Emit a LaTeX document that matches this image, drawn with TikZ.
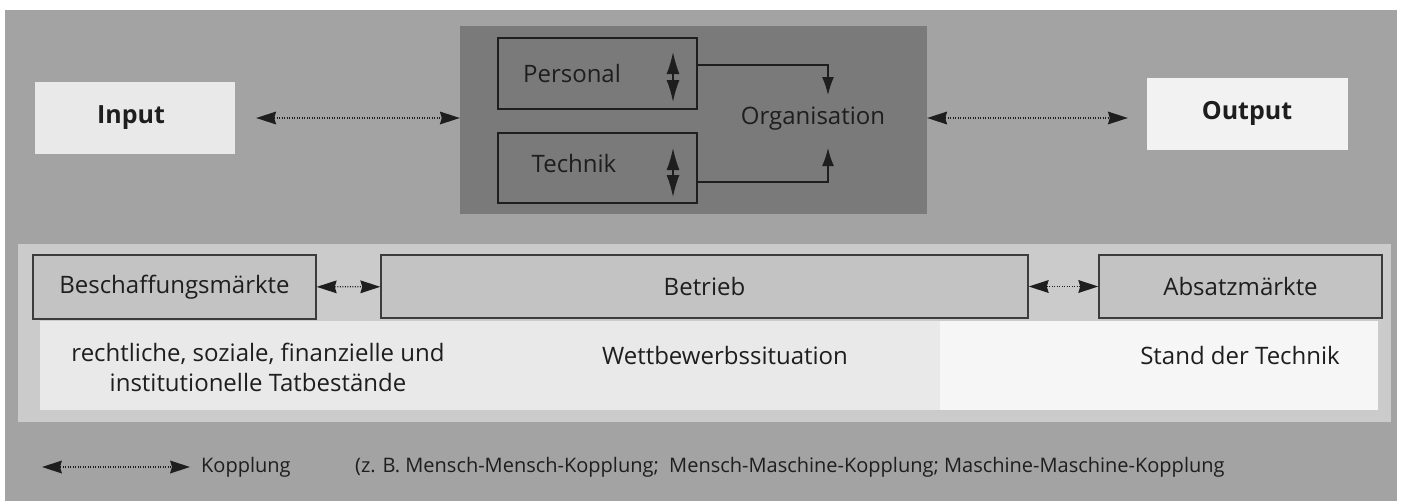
\documentclass[tikz,border=0pt]{standalone}
\usepackage{fontspec}
\setmainfont{Open Sans}
\usetikzlibrary{arrows.meta,calc}
\definecolor{bggrey}{HTML}{A3A3A3}
\definecolor{darkbox}{HTML}{7A7A7A}
\definecolor{panelgrey}{HTML}{CBCBCB}
\definecolor{boxgrey}{HTML}{C3C3C3}
\definecolor{stripA}{HTML}{E9E9E9}
\definecolor{stripB}{HTML}{F6F6F6}
\definecolor{inkgrey}{HTML}{1E1E1E}
\definecolor{linegrey}{HTML}{3C3C3C}
\tikzset{
  txt/.style={inner sep=0pt, text=inkgrey, font=\fontsize{24}{30}\selectfont},
  bigbold/.style={inner sep=0pt, text=inkgrey, font=\fontsize{25}{30}\selectfont\bfseries},
  small/.style={inner sep=0pt, text=inkgrey, font=\fontsize{20}{24}\selectfont},
  lightbox/.style={draw=none, inner sep=0pt},
  framebox/.style={draw=linegrey, line width=1.5pt, fill=boxgrey, inner sep=0pt},
  coup/.style={draw=inkgrey, line width=1.2pt, dash pattern=on 1pt off 1.5pt,
    {Stealth[length=20pt,width=13pt,inset=2pt,line width=0pt]}-{Stealth[length=20pt,width=13pt,inset=2pt,line width=0pt]}},
  flow/.style={draw=inkgrey, line width=1.5pt, -{Latex[length=18pt,width=12pt]}},
  dbl/.style={draw=inkgrey, line width=1.5pt, {Latex[length=22pt,width=13pt]}-{Latex[length=22pt,width=13pt]}},
}
\begin{document}
\begin{tikzpicture}[x=1pt,y=-1pt]
\useasboundingbox (0,0) rectangle (1402,501);
\fill[white] (0,0) rectangle (1402,501);
\fill[bggrey] (5,10) rectangle (1397,501);

% upper part
\node[lightbox, fill=darkbox, minimum width=467pt, minimum height=188pt] (org) at (693.5,120) {};
\node[framebox, fill=none, draw=inkgrey, minimum width=199pt, minimum height=71pt] (pers) at (597.5,73.5) {};
\node[framebox, fill=none, draw=inkgrey, minimum width=199pt, minimum height=70pt] (tech) at (597.5,168) {};
\node[txt] (perstxt) at (572,73) {Personal};
\node[txt] (techtxt) at (574,163) {Technik};
\node[txt] (orgtxt) at (813,119) {Organisation};

\coordinate (pu) at (673,52);
\coordinate (pd) at (673,102);
\coordinate (tu) at (673,148);
\coordinate (td) at (673,197);
\draw[dbl] (pu) -- (pd);
\draw[dbl] (tu) -- (td);

\coordinate (po) at (828,95);
\coordinate (to) at (828,148);
\draw[flow] ([yshift=8.5pt]pers.east) -| (po);
\draw[flow] ([yshift=-14pt]tech.east) -| (to);

\node[lightbox, fill=stripA, minimum width=200pt, minimum height=72pt] (inp) at (135,118) {};
\node[bigbold] (inptxt) at (131,118) {Input};
\node[lightbox, fill=stripA!60!white, minimum width=201pt, minimum height=72pt] (outp) at (1247.5,114) {};
\node[bigbold] (outptxt) at (1247,113) {Output};

\draw[coup, shorten <=21pt] (inp.east |- 0,118) -- (org.west |- 0,118);
\draw[coup, shorten >=19pt] (org.east |- 0,118) -- (outp.west |- 0,118);

% lower part
\node[lightbox, fill=panelgrey, minimum width=1373pt, minimum height=178pt] (panel) at (704.5,333) {};
\fill[stripA] (40,321) rectangle (940,410);
\fill[stripB] (940,321) rectangle (1378,410);

\node[framebox, minimum width=283pt, minimum height=64pt, txt] (besch) at (174.5,287) {Beschaffungsmärkte};
\node[framebox, minimum width=647pt, minimum height=63pt, txt] (betr) at (704.5,286.5) {Betrieb};
\node[framebox, minimum width=283pt, minimum height=63pt, txt] (absatz) at (1240.5,286.5) {Absatzmärkte};

\draw[coup] (besch) -- (betr);
\draw[coup] (betr) -- (absatz);

\node[txt, align=center] (recht) at (258,367) {rechtliche, soziale, finanzielle und\\institutionelle Tatbestände};
\node[txt] (wett) at (725,355) {Wettbewerbssituation};
\node[txt] (stand) at (1240,355) {Stand der Technik};

% legend
\coordinate (la) at (42,467);
\coordinate (lb) at (190,467);
\draw[coup] (la) -- (lb);
\node[small, anchor=west] (kop) at (201,467) {Kopplung};
\node[small, anchor=west] (bsp) at (355,467) {(z. B. Mensch-Mensch-Kopplung;\ \ Mensch-Maschine-Kopplung; Maschine-Maschine-Kopplung};
\end{tikzpicture}
\end{document}
